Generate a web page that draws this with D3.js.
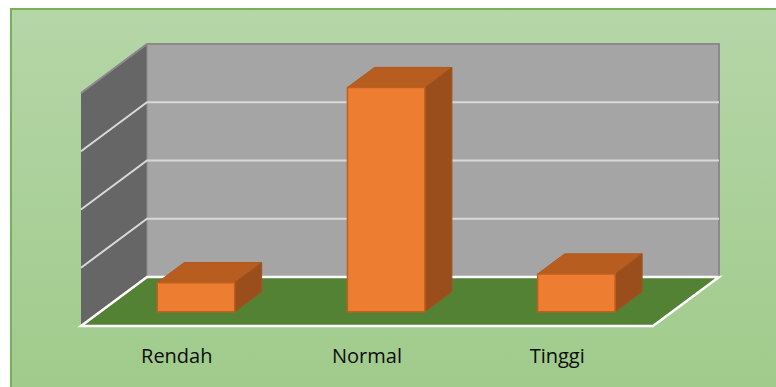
<!DOCTYPE html>
<html>
<head>
<meta charset="utf-8">
<script src="https://cdn.jsdelivr.net/npm/d3@7"></script>
<style>
  html, body { margin: 0; padding: 0; background: #fff; }
  svg { display: block; }
</style>
</head>
<body>
<div id="plot"></div>
<script>
// chart data
var categories = ["Rendah", "Normal", "Tinggi"];
var values = [10, 77, 13];
var gridTicks = [0, 20, 40, 60, 80];

var W = 776, H = 387;

// front plane of the 3D box and the depth offset
var floorLeft = 81, floorRight = 653, floorFront = 326, wallH = 233;
var depth = {dx: 66, dy: -49};
var barT0 = 0.29, barT1 = 0.70;   // bar front / back, as a fraction of depth

var svg = d3.select("#plot").append("svg")
    .attr("width", W)
    .attr("height", H);

// background gradient
var defs = svg.append("defs");
var grad = defs.append("linearGradient")
    .attr("id", "bg")
    .attr("x1", 0).attr("y1", 0).attr("x2", 0).attr("y2", 1);
grad.append("stop").attr("offset", "0%").attr("stop-color", "#b5d6a7");
grad.append("stop").attr("offset", "100%").attr("stop-color", "#9fca8a");

svg.append("rect")
    .attr("x", 11).attr("y", 9)
    .attr("width", W + 20).attr("height", H + 20)
    .attr("fill", "url(#bg)")
    .attr("stroke", "#78b059")
    .attr("stroke-width", 2);

var xScale = d3.scaleBand()
    .domain(categories)
    .range([floorLeft, floorRight])
    .paddingInner(0.593)
    .paddingOuter(0.3);

var yScale = d3.scaleLinear()
    .domain([0, 80])
    .range([floorFront, floorFront - wallH]);

// project a point (screen x on front plane, value, depth fraction)
function P(x, v, t) {
  return [x + depth.dx * t, yScale(v) + depth.dy * t];
}
function poly(pts) {
  return pts.map(function(p) { return p[0].toFixed(2) + "," + p[1].toFixed(2); }).join(" ");
}

var vMax = yScale.domain()[1];

// back wall
svg.append("polygon")
    .attr("points", poly([P(floorLeft, 0, 1), P(floorRight, 0, 1), P(floorRight, vMax, 1), P(floorLeft, vMax, 1)]))
    .attr("fill", "#a5a5a5");

// side wall
svg.append("polygon")
    .attr("points", poly([P(floorLeft, 0, 0), P(floorLeft, 0, 1), P(floorLeft, vMax, 1), P(floorLeft, vMax, 0)]))
    .attr("fill", "#666666");

// wall outlines
svg.append("polyline")
    .attr("points", poly([P(floorLeft, vMax, 0), P(floorLeft, vMax, 1), P(floorRight, vMax, 1), P(floorRight, 0, 1)]))
    .attr("fill", "none")
    .attr("stroke", "#8a8a8a")
    .attr("stroke-width", 2);
svg.append("line")
    .attr("x1", P(floorLeft, 0, 1)[0]).attr("y1", P(floorLeft, 0, 1)[1])
    .attr("x2", P(floorLeft, vMax, 1)[0]).attr("y2", P(floorLeft, vMax, 1)[1])
    .attr("stroke", "#8c8c8c")
    .attr("stroke-width", 1);

// gridlines on the walls
var grid = svg.append("g").attr("class", "grid");
gridTicks.slice(1, -1).forEach(function(v) {
  grid.append("polyline")
      .attr("points", poly([P(floorLeft, v, 0), P(floorLeft, v, 1), P(floorRight, v, 1)]))
      .attr("fill", "none")
      .attr("stroke", "#d9d9d9")
      .attr("stroke-width", 2);
});

// floor
svg.append("polygon")
    .attr("points", poly([P(floorLeft, 0, 0), P(floorRight, 0, 0), P(floorRight, 0, 1), P(floorLeft, 0, 1)]))
    .attr("fill", "#548235")
    .attr("stroke", "#ffffff")
    .attr("stroke-width", 2.5)
    .attr("stroke-linejoin", "miter");

// bars
var bars = svg.append("g").attr("class", "bars")
  .selectAll("g")
  .data(categories.map(function(c, i) { return {cat: c, value: values[i]}; }))
  .enter().append("g");

bars.each(function(d) {
  var g = d3.select(this);
  var x0 = xScale(d.cat), x1 = x0 + xScale.bandwidth();
  // top face
  g.append("polygon")
      .attr("points", poly([P(x0, d.value, barT0), P(x1, d.value, barT0), P(x1, d.value, barT1), P(x0, d.value, barT1)]))
      .attr("fill", "#b85d20")
      .attr("stroke", "#b0581c")
      .attr("stroke-width", 1);
  // side face
  g.append("polygon")
      .attr("points", poly([P(x1, 0, barT0), P(x1, 0, barT1), P(x1, d.value, barT1), P(x1, d.value, barT0)]))
      .attr("fill", "#9a4e1c")
      .attr("stroke", "#a4531d")
      .attr("stroke-width", 1);
  // front face
  g.append("polygon")
      .attr("points", poly([P(x0, 0, barT0), P(x1, 0, barT0), P(x1, d.value, barT0), P(x0, d.value, barT0)]))
      .attr("fill", "#ed7d31")
      .attr("stroke", "#c0601f")
      .attr("stroke-width", 1.5);
});

// category labels
svg.append("g").attr("class", "labels")
  .selectAll("text")
  .data(categories)
  .enter().append("text")
    .attr("x", function(d) { return xScale(d) + xScale.bandwidth() / 2; })
    .attr("y", 363)
    .attr("text-anchor", "middle")
    .attr("font-family", "'Open Sans', sans-serif")
    .attr("font-size", "20px")
    .attr("fill", "#0d0d0d")
    .text(function(d) { return d; });
</script>
</body>
</html>
